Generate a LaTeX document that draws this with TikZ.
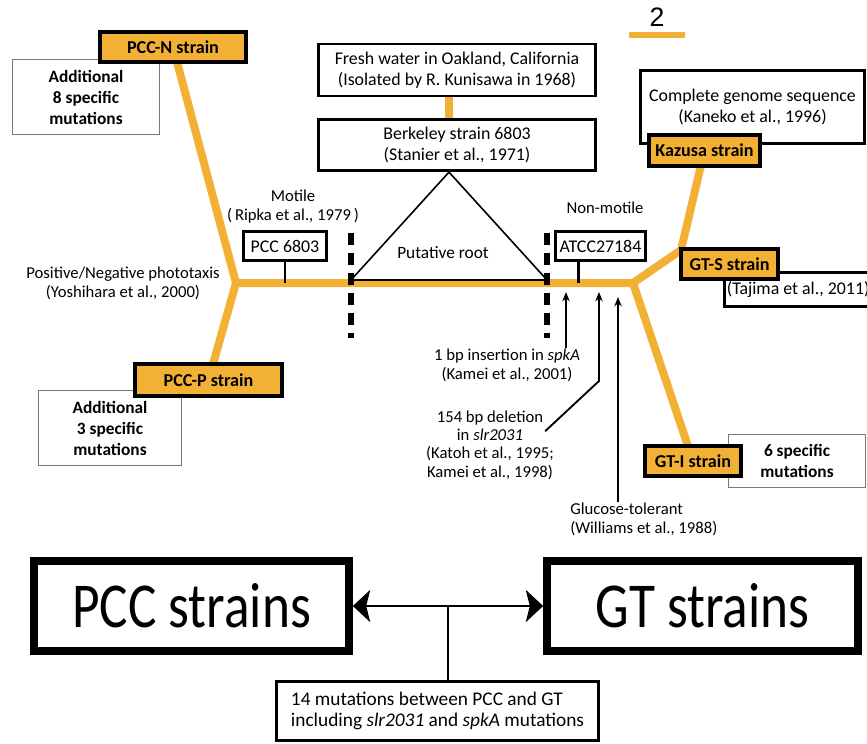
\documentclass[tikz,border=0pt]{standalone}
\usepackage{fontspec}
\setmainfont{Carlito}
\newfontfamily\digitfont{Liberation Sans}
\usetikzlibrary{arrows.meta, calc, backgrounds}
\definecolor{strainorange}{RGB}{242,177,52}
\definecolor{notegray}{RGB}{120,120,120}

\begin{document}
\begin{tikzpicture}[x = 0.75pt, y = -0.75pt,
    strain/.style = {draw, line width = 3pt, fill = strainorange, inner sep = 0pt,
        font = \fontsize{13.6}{15}\selectfont\bfseries},
    extra/.style = {draw = notegray, line width = 1pt, fill = white, align = center, inner sep = 0pt,
        font = \fontsize{13}{15.75}\selectfont\bfseries},
    info/.style = {draw, line width = 2.2pt, fill = white, align = center, inner sep = 0pt,
        font = \fontsize{13.4}{15.5}\selectfont},
    remark/.style = {align = center, inner sep = 0pt, font = \fontsize{12.5}{14.25}\selectfont},
    branch/.style = {strainorange, line width = 6pt, line join = round},
    rootcut/.style = {line width = 4.5pt, dash pattern = on 9pt off 6pt},
    stem/.style = {line width = 1.6pt},
    mutation/.style = {line width = 1.4pt, -{Stealth[length = 7pt, width = 5.5pt]}},
    bigtip/.tip = {Stealth[length = 13pt, width = 24pt, inset = 3pt]},
    bigbox/.style = {draw, line width = 6pt, inner sep = 0pt, minimum height = 67.5pt,
        font = \fontsize{40}{40}\selectfont}]
\useasboundingbox (0,0) rectangle (867,743);
\clip (0,0) rectangle (867,743);

\node[extra, minimum width = 110pt, minimum height = 56pt] (add8) at (86,97)
    {Additional\\8 specific\\mutations};
\node[strain, minimum width = 109.5pt, minimum height = 22.5pt] (pccn) at (173,47) {PCC-N strain};
\node[extra, minimum width = 107pt, minimum height = 56pt] (add3) at (110,428)
    {Additional\\3 specific\\mutations};
\node[strain, minimum width = 110pt, minimum height = 24pt] (pccp) at (208.5,380) {PCC-P strain};

\node[info, minimum width = 208pt, minimum height = 39pt] (fresh) at (457,70)
    {Fresh water in Oakland, California\\(Isolated by R. Kunisawa in 1968)};
\node[info, minimum width = 208pt, minimum height = 38.5pt] (berkeley) at (457,145)
    {Berkeley strain 6803\\(Stanier et al., 1971)};
\node[info, minimum width = 168pt, minimum height = 55pt] (genome) at (752.5,107)
    {Complete genome sequence\\(Kaneko et al., 1996)};
\node[strain, minimum width = 83pt, minimum height = 23pt] (kazusa) at (704.5,150.5) {Kazusa strain};
\node[info, minimum width = 116pt, minimum height = 26pt] (tajima)
    at (801.5,289.5) {\makebox[112pt][l]{(Tajima et al., 2011)}};
\node[strain, minimum width = 73pt, minimum height = 22.5pt] (gts) at (729.5,264) {GT-S strain};
\node[extra, minimum width = 102.5pt, minimum height = 39.5pt] (six) at (797,461)
    {6 specific\\mutations};
\node[strain, minimum width = 72pt, minimum height = 22.5pt] (gti) at (693,461) {GT-I strain};

\node[info, minimum width = 62.5pt, minimum height = 22pt] (pcc6803) at (285,246) {PCC 6803};
\node[info, minimum width = 68pt, minimum height = 22pt] (atcc) at (600.5,246) {ATCC27184};

\node[remark] (motile) at (293,207) {Motile\\(\,Ripka et al., 1979\,)};
\node[remark] (photo) at (123,283) {Positive/Negative phototaxis\\(Yoshihara et al., 2000)};
\node[remark] (nonmotile) at (605,208) {Non-motile};
\node[remark, font = \fontsize{13}{15}\selectfont] (putative) at (443,253) {Putative root};
\node[remark] (spka) at (507,365) {1 bp insertion in \textit{spkA}\\(Kamei et al., 2001)};
\node[remark, font = \fontsize{12.5}{13.8}\selectfont] (slr) at (490,445)
    {154 bp deletion\\in \textit{slr2031}\\(Katoh et al., 1995;\\Kamei et al., 1998)};
\node[remark, align = left, anchor = west] (glucose) at (570,519)
    {Glucose-tolerant\\(Williams et al., 1988)};
\node[font = \digitfont\fontsize{20}{20}\selectfont, inner sep = 0pt] (scale) at (657,17) {2};

\coordinate (lfork) at (236,283);
\coordinate (rfork) at (633,283);
\coordinate (kbend) at (681,250);
\coordinate (rootl) at (351,280);
\coordinate (rootr) at (547,280);
\coordinate (rootmid) at ($(rootl)!0.5!(rootr)$);
\coordinate (apex) at (rootmid |- berkeley.south);

\begin{scope}[on background layer]
\draw[branch] (pccn.center) -- (lfork) -- (pccp.center);
\draw[branch] (lfork) -- (rfork) -- (kbend) -- (kazusa.center);
\draw[branch] (rfork) -- (gti.center);
\draw[branch] (fresh.center -| apex) -- (berkeley.center -| apex);
\end{scope}
\draw[branch, line width = 4.5pt] (629,35) -- (685,35);

\draw[line width = 1.2pt] (rootl) -- (apex) -- (rootr) -- cycle;
\draw[rootcut] ($(rootl)+(0,-47)$) -- ($(rootl)+(0,58)$);
\draw[rootcut] ($(rootr)+(0,-47)$) -- ($(rootr)+(0,58)$);

\coordinate (atccstem) at ($(atcc.south)+(-22,0)$);
\draw[stem] (pcc6803.south) -- (pcc6803.south |- lfork);
\draw[stem] (atccstem) -- (atccstem |- rfork);

\coordinate (m1) at (566,292);
\coordinate (m2) at (599,292);
\coordinate (m3) at (618,297);
\draw[mutation] (spka.north -| m1) -- (m1);
\draw[mutation] ($(slr.north east)+(-9,21)$) -- ($(m2)+(0,89)$) -- (m2);
\draw[mutation] (glucose.north -| m3) -- (m3);

\node[bigbox, minimum width = 236pt] (pccbig) at (191.5,606) {\scalebox{1}[1.2]{PCC strains}};
\node[bigbox, minimum width = 233pt] (gtbig) at (702.5,606) {\scalebox{1}[1.2]{GT strains}};
\node[info, minimum width = 242pt, minimum height = 44pt, align = left,
    font = \fontsize{14.5}{15.75}\selectfont] (between) at (437.5,711)
    {14 mutations between PCC and GT\\including \textit{slr2031} and \textit{spkA} mutations};
\coordinate (mid) at ($(pccbig.east)!0.5!(gtbig.west)$);
\draw[line width = 2.2pt, {bigtip}-{bigtip}] (pccbig.east) -- (gtbig.west);
\draw[stem] (mid) -- (mid |- between.north);
\end{tikzpicture}
\end{document}
